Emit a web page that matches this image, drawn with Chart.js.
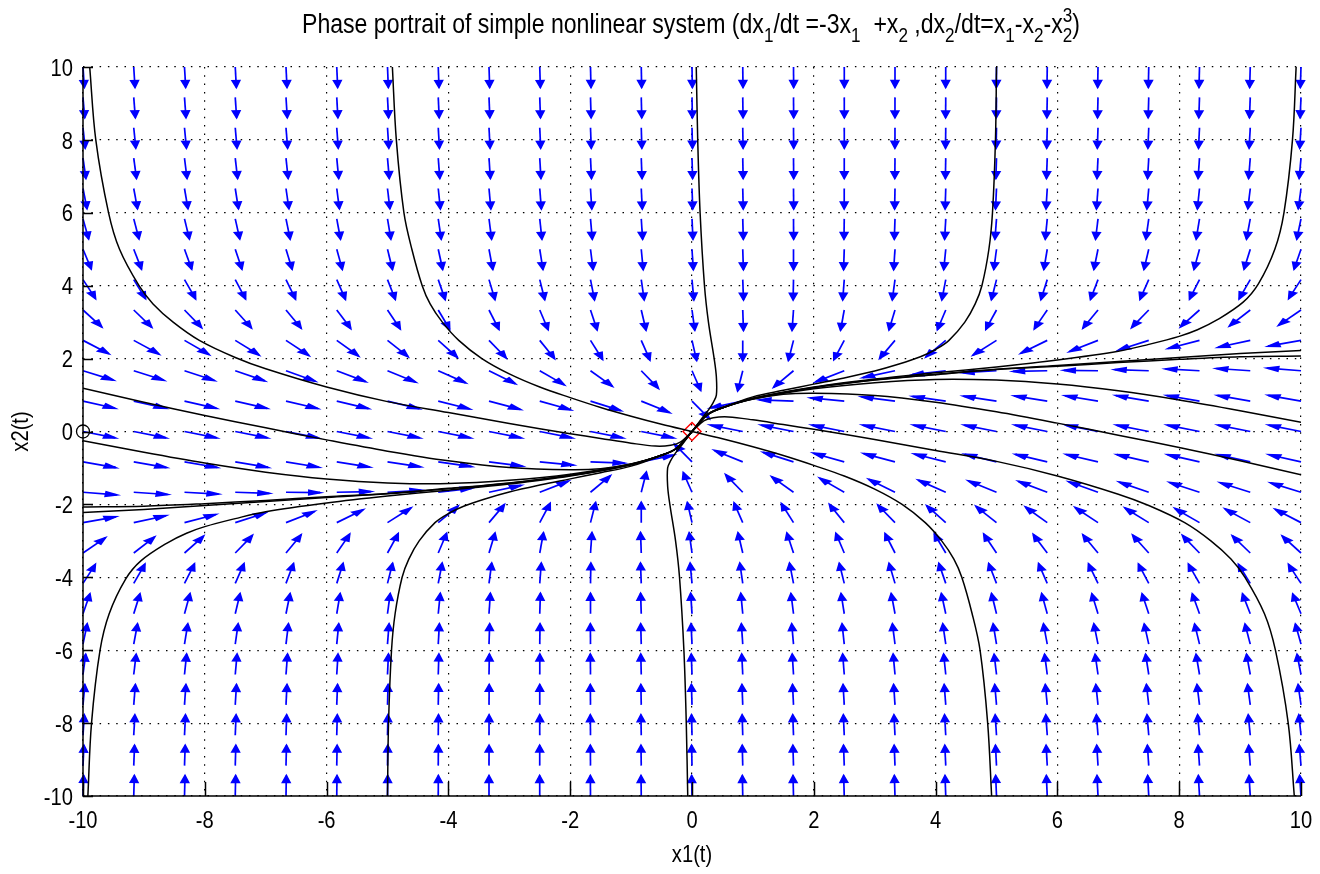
<!DOCTYPE html>
<html lang="en">
<head>
<meta charset="UTF-8" />
<title>Phase portrait</title>
<script src="https://cdn.jsdelivr.net/npm/chart.js"></script>
<style>
  html, body { margin: 0; padding: 0; background: #fff; }
</style>
</head>
<body>
<canvas id="phase" width="1320" height="874"></canvas>
<script>
  // quiver grid (25 x 25 points over [-10, 10])
  var gridX1 = [-10, -9.1667, -8.3333, -7.5, -6.6667, -5.8333, -5, -4.1667, -3.3333, -2.5, -1.6667, -0.8333, 0,
                0.8333, 1.6667, 2.5, 3.3333, 4.1667, 5, 5.8333, 6.6667, 7.5, 8.3333, 9.1667, 10];
  var gridX2 = [-10, -9.1667, -8.3333, -7.5, -6.6667, -5.8333, -5, -4.1667, -3.3333, -2.5, -1.6667, -0.8333, 0,
                0.8333, 1.6667, 2.5, 3.3333, 4.1667, 5, 5.8333, 6.6667, 7.5, 8.3333, 9.1667, 10];

  // system from the title:  dx1/dt = a0*x1 + a1*x2 ,  dx2/dt = b0*x1 + b1*x2 + b2*x2^3
  var coefDx1 = [-3, 1];
  var coefDx2 = [1, -1, -1];

  var tickValues = [-10, -8, -6, -4, -2, 0, 2, 4, 6, 8, 10];

  // trajectories, [x1, x2] pairs
  var trajTopA = [[-9.89, 10], [-9.79, 8], [-9.58, 6], [-9.4, 5], [-9.08, 4], [-8.85, 3.5], [-8.52, 3], [-8.09, 2.5],
                  [-7.5, 2.03], [-7, 1.72], [-6, 1.22], [-5, 0.82], [-4, 0.52], [-3, 0.22], [-2, -0.06], [-1.5, -0.19],
                  [-1, -0.32], [-0.6, -0.4], [-0.35, -0.38], [-0.2, -0.3], [0, 0]];
  var trajBotA = [[9.89, -10], [9.79, -8], [9.58, -6], [9.4, -5], [9.08, -4], [8.85, -3.5], [8.52, -3], [8.09, -2.5],
                  [7.5, -2.03], [7, -1.72], [6, -1.22], [5, -0.82], [4, -0.52], [3, -0.22], [2, 0.06], [1.5, 0.19],
                  [1, 0.32], [0.6, 0.4], [0.35, 0.38], [0.2, 0.3], [0, 0]];
  var trajTopB = [[-4.92, 10], [-4.855, 8], [-4.73, 6], [-4.6, 5], [-4.43, 4], [-4.3, 3.5], [-4.1, 3], [-3.83, 2.5],
                  [-3.45, 2], [-3, 1.58], [-2.5, 1.22], [-2, 0.93], [-1.5, 0.66], [-1, 0.42], [-0.5, 0.2], [0, 0]];
  var trajBotB = [[4.92, -10], [4.855, -8], [4.73, -6], [4.6, -5], [4.43, -4], [4.3, -3.5], [4.1, -3], [3.83, -2.5],
                  [3.45, -2], [3, -1.58], [2.5, -1.22], [2, -0.93], [1.5, -0.66], [1, -0.42], [0.5, -0.2], [0, 0]];
  var trajTopC = [[0.07, 10], [0.094, 8], [0.133, 6], [0.205, 4], [0.27, 3], [0.364, 2], [0.4, 1.5], [0.4, 1],
                  [0.35, 0.8], [0.275, 0.6], [0.18, 0.4], [0.09, 0.2], [0, 0]];
  var trajBotC = [[-0.07, -10], [-0.094, -8], [-0.133, -6], [-0.205, -4], [-0.27, -3], [-0.364, -2], [-0.4, -1.5],
                  [-0.4, -1], [-0.35, -0.8], [-0.275, -0.6], [-0.18, -0.4], [-0.09, -0.2], [0, 0]];
  var trajTopD = [[5, 10], [4.983, 8], [4.934, 6], [4.875, 5], [4.76, 4], [4.65, 3.5], [4.48, 3], [4.22, 2.5],
                  [4, 2.25], [3.75, 2.05], [3.4, 1.85], [3, 1.66], [2.5, 1.47], [2, 1.3], [1.5, 1.13], [1, 0.95],
                  [0.5, 0.65], [0.25, 0.45], [0, 0]];
  var trajBotD = [[-5, -10], [-4.983, -8], [-4.934, -6], [-4.875, -5], [-4.76, -4], [-4.65, -3.5], [-4.48, -3],
                  [-4.22, -2.5], [-4, -2.25], [-3.75, -2.05], [-3.4, -1.85], [-3, -1.66], [-2.5, -1.47], [-2, -1.3],
                  [-1.5, -1.13], [-1, -0.95], [-0.5, -0.65], [-0.25, -0.45], [0, 0]];
  var trajTopE = [[9.92, 10], [9.86, 8], [9.72, 6], [9.57, 5], [9.3, 4.05], [9.05, 3.55], [8.62, 3.06], [8.3, 2.79],
                  [8, 2.61], [7.5, 2.39], [7, 2.2], [6, 1.96], [5, 1.77], [4, 1.61], [3, 1.44], [2, 1.22], [1, 0.91],
                  [0.5, 0.65], [0.25, 0.46], [0, 0]];
  var trajBotE = [[-9.92, -10], [-9.86, -8], [-9.72, -6], [-9.57, -5], [-9.3, -4.05], [-9.05, -3.55], [-8.62, -3.06],
                  [-8.3, -2.79], [-8, -2.61], [-7.5, -2.39], [-7, -2.2], [-6, -1.96], [-5, -1.77], [-4, -1.61],
                  [-3, -1.44], [-2, -1.22], [-1, -0.91], [-0.5, -0.65], [-0.25, -0.46], [0, 0]];
  var trajLeft1 = [[-10, 1.19], [-9, 0.8], [-8, 0.44], [-7, 0.1], [-6, -0.23], [-5, -0.54], [-4, -0.805], [-3, -0.99],
                   [-2, -1.05], [-1.5, -1.02], [-1, -0.89], [-0.5, -0.66], [-0.25, -0.46], [0, 0]];
  var trajRight1 = [[10, -1.19], [9, -0.8], [8, -0.44], [7, -0.1], [6, 0.23], [5, 0.54], [4, 0.805], [3, 0.99],
                    [2, 1.05], [1.5, 1.02], [1, 0.89], [0.5, 0.66], [0.25, 0.46], [0, 0]];
  var trajLeft2 = [[-10, -0.25], [-9, -0.57], [-8, -0.865], [-7, -1.115], [-6, -1.3], [-5, -1.41], [-4, -1.43],
                   [-3, -1.34], [-2, -1.17], [-1, -0.89], [-0.5, -0.65], [-0.25, -0.46], [0, 0]];
  var trajRight2 = [[10, 0.25], [9, 0.57], [8, 0.865], [7, 1.115], [6, 1.3], [5, 1.41], [4, 1.43],
                    [3, 1.34], [2, 1.17], [1, 0.89], [0.5, 0.65], [0.25, 0.46], [0, 0]];
  var trajLeft3 = [[-10, -2.07], [-9, -2.05], [-8, -1.98], [-7, -1.89], [-6, -1.79], [-5, -1.7], [-4, -1.56],
                   [-3, -1.41], [-2, -1.2], [-1, -0.9], [-0.5, -0.65], [-0.25, -0.46], [0, 0]];
  var trajRight3 = [[10, 2.07], [9, 2.05], [8, 1.98], [7, 1.89], [6, 1.79], [5, 1.7], [4, 1.56],
                    [3, 1.41], [2, 1.2], [1, 0.9], [0.5, 0.65], [0.25, 0.46], [0, 0]];
  var trajLeft4 = [[-10, -2.22], [-9, -2.14], [-8, -2.03], [-7, -1.92], [-6, -1.81], [-5, -1.71], [-4, -1.57],
                   [-3, -1.42], [-2, -1.21], [-1, -0.91], [-0.5, -0.65], [-0.25, -0.46], [0, 0]];
  var trajRight4 = [[10, 2.22], [9, 2.14], [8, 2.03], [7, 1.92], [6, 1.81], [5, 1.71], [4, 1.57],
                    [3, 1.42], [2, 1.21], [1, 0.91], [0.5, 0.65], [0.25, 0.46], [0, 0]];

  var equilibrium = [0, 0];
  var startMark = [-10, 0];

  var FONT = "'Liberation Sans', Arial, sans-serif";
  var SQUEEZE = 0.84;   // narrow lettering, Helvetica-Narrow look

  var trajectories = [trajTopA, trajBotA, trajTopB, trajBotB, trajTopC, trajBotC, trajTopD, trajBotD,
                      trajTopE, trajBotE, trajLeft1, trajRight1, trajLeft2, trajRight2,
                      trajLeft3, trajRight3, trajLeft4, trajRight4];

  function toXY(arr) {
    return arr.map(function (p) { return { x: p[0], y: p[1] }; });
  }

  var datasets = trajectories.map(function (t) {
    return {
      data: toXY(t),
      showLine: true,
      borderColor: '#000',
      borderWidth: 1.5,
      pointRadius: 0,
      tension: 0.35,
      fill: false
    };
  });
  datasets.push({
    data: [{ x: equilibrium[0], y: equilibrium[1] }],
    pointStyle: 'rectRot', pointRadius: 9, borderColor: '#ff0000', borderWidth: 1.5,
    backgroundColor: 'rgba(0,0,0,0)', showLine: false, clip: false
  });
  datasets.push({
    data: [{ x: startMark[0], y: startMark[1] }],
    pointStyle: 'circle', pointRadius: 6.5, borderColor: '#000', borderWidth: 1.3,
    backgroundColor: 'rgba(0,0,0,0)', showLine: false, clip: false
  });

  // direction field, unit vectors scaled to a fixed length (in axis units)
  var arrowLen = 0.56;
  var quiverPlugin = {
    id: 'quiver',
    beforeDatasetsDraw: function (chart) {
      var ctx = chart.ctx, sx = chart.scales.x, sy = chart.scales.y;
      var alpha = 0.33, beta = 0.33;
      var px = function (a) { return sx.getPixelForValue(a); };
      var py = function (a) { return sy.getPixelForValue(a); };
      ctx.save();
      ctx.strokeStyle = '#0000ff';
      ctx.fillStyle = '#0000ff';
      ctx.lineWidth = 1.7;
      ctx.lineJoin = 'miter';
      gridX2.forEach(function (x2) {
        gridX1.forEach(function (x1) {
          var u = coefDx1[0] * x1 + coefDx1[1] * x2;
          var v = coefDx2[0] * x1 + coefDx2[1] * x2 + coefDx2[2] * x2 * x2 * x2;
          var n = Math.sqrt(u * u + v * v);
          if (n === 0) return;
          u = u / n * arrowLen;
          v = v / n * arrowLen;
          var tx = x1 + u, ty = x2 + v;
          var h1x = tx - alpha * (u + beta * v), h1y = ty - alpha * (v - beta * u);
          var h2x = tx - alpha * (u - beta * v), h2y = ty - alpha * (v + beta * u);
          ctx.beginPath();
          ctx.moveTo(px(x1), py(x2));
          ctx.lineTo(px(tx), py(ty));
          ctx.stroke();
          ctx.beginPath();
          ctx.moveTo(px(h1x), py(h1y));
          ctx.lineTo(px(tx), py(ty));
          ctx.lineTo(px(h2x), py(h2y));
          ctx.closePath();
          ctx.fill();
          ctx.stroke();
        });
      });
      ctx.restore();
    }
  };

  // title pieces: plain text, subscripts, and the stacked x2^3 term
  var titleParts = [
    { t: 'Phase portrait of simple nonlinear system (dx' }, { t: '1', sub: true }, { t: '/dt =-3x' },
    { t: '1', sub: true }, { t: '  +x' }, { t: '2', sub: true }, { t: ' ,dx' }, { t: '2', sub: true },
    { t: '/dt=x' }, { t: '1', sub: true }, { t: '-x' }, { t: '2', sub: true }, { t: '-x' },
    { t: '2', sub: true, sup: '3' }, { t: ')' }
  ];

  function narrowText(ctx, text, x, y, align, rot) {
    ctx.save();
    ctx.translate(x, y);
    if (rot) ctx.rotate(rot);
    ctx.scale(SQUEEZE, 1);
    ctx.textAlign = align;
    ctx.fillText(text, 0, 0);
    ctx.restore();
  }

  function drawTitle(ctx, cx, baseline, size, squeeze) {
    var big = size + 'px ' + FONT;
    var small = Math.round(size * 0.75) + 'px ' + FONT;
    var total = 0;
    titleParts.forEach(function (p) {
      ctx.font = p.sub ? small : big;
      p.w = ctx.measureText(p.t).width;
      if (p.sup) p.w = Math.max(p.w, ctx.measureText(p.sup).width);
      total += p.w;
    });
    ctx.save();
    ctx.translate(cx - total * squeeze / 2, baseline);
    ctx.scale(squeeze, 1);
    ctx.fillStyle = '#000';
    ctx.textBaseline = 'alphabetic';
    ctx.textAlign = 'left';
    var x = 0;
    titleParts.forEach(function (p) {
      if (p.sub) {
        ctx.font = small;
        ctx.fillText(p.t, x, size * 0.33);
        if (p.sup) ctx.fillText(p.sup, x, -size * 0.42);
      } else {
        ctx.font = big;
        ctx.fillText(p.t, x, 0);
      }
      x += p.w;
    });
    ctx.restore();
  }

  // left/bottom axes, inward ticks, tick labels, axis labels and title
  var framePlugin = {
    id: 'frame',
    afterDraw: function (chart) {
      var ctx = chart.ctx, a = chart.chartArea, sx = chart.scales.x, sy = chart.scales.y;
      ctx.save();
      ctx.strokeStyle = '#000';
      ctx.lineWidth = 1.5;
      ctx.beginPath();
      ctx.moveTo(a.left, a.top);
      ctx.lineTo(a.left, a.bottom);
      ctx.lineTo(a.right, a.bottom);
      tickValues.forEach(function (v) {
        var x = Math.round(sx.getPixelForValue(v)) + 0.5;
        ctx.moveTo(x, a.bottom); ctx.lineTo(x, a.bottom - 14);
        var y = Math.round(sy.getPixelForValue(v)) + 0.5;
        ctx.moveTo(a.left, y); ctx.lineTo(a.left + 10, y);
      });
      ctx.stroke();

      ctx.fillStyle = '#000';
      ctx.font = '24px ' + FONT;
      ctx.textBaseline = 'alphabetic';
      tickValues.forEach(function (v) {
        narrowText(ctx, String(v), sx.getPixelForValue(v), a.bottom + 32, 'center');
        narrowText(ctx, String(v), a.left - 10, sy.getPixelForValue(v) + 8.6, 'right');
      });
      narrowText(ctx, 'x1(t)', (a.left + a.right) / 2, 862, 'center');
      narrowText(ctx, 'x2(t)', 28, (a.top + a.bottom) / 2, 'center', -Math.PI / 2);

      drawTitle(ctx, (a.left + a.right) / 2 - 1, 33, 27, 0.855);
      ctx.restore();
    }
  };

  var phaseChart = new Chart(document.getElementById('phase'), {
    type: 'scatter',
    data: { datasets: datasets },
    options: {
      responsive: false,
      animation: false,
      devicePixelRatio: 1,
      layout: { padding: { top: 67, right: 19, left: 0, bottom: 0 } },
      plugins: {
        legend: { display: false },
        tooltip: { enabled: false },
        title: { display: false }
      },
      scales: {
        x: {
          type: 'linear', min: -10, max: 10,
          afterFit: function (s) { s.height = 78; },
          ticks: { stepSize: 2, display: false },
          grid: { color: '#000', lineWidth: 1.2, drawTicks: false },
          border: { display: false, dash: [1.5, 6.8] }
        },
        y: {
          type: 'linear', min: -10, max: 10,
          afterFit: function (s) { s.width = 83; },
          ticks: { stepSize: 2, display: false },
          grid: { color: '#000', lineWidth: 1.2, drawTicks: false },
          border: { display: false, dash: [1.5, 6.8] }
        }
      }
    },
    plugins: [quiverPlugin, framePlugin]
  });
</script>
</body>
</html>
